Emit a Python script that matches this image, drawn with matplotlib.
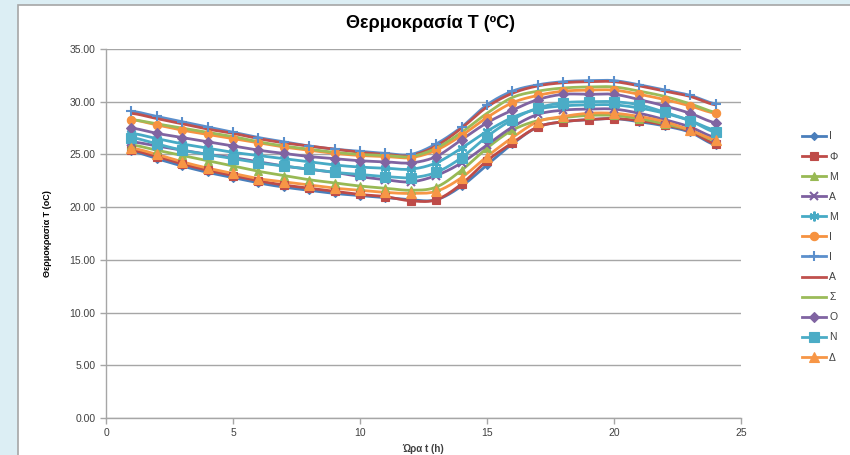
import matplotlib
matplotlib.use("Agg")
import matplotlib.pyplot as plt
import numpy as np
from matplotlib.patches import Rectangle

hours = list(range(1, 25))

# μηνιαίες καμπύλες θερμοκρασίας (°C) ανά ώρα
t_jan = [25.3, 24.6, 23.9, 23.3, 22.8, 22.3, 21.9, 21.6, 21.3, 21.1, 20.9, 20.7,
         20.7, 22.0, 24.0, 26.0, 27.6, 28.1, 28.3, 28.4, 28.1, 27.7, 27.1, 25.9]
t_feb = [25.4, 24.8, 24.1, 23.5, 23.0, 22.5, 22.1, 21.8, 21.5, 21.2, 21.0, 20.6,
         20.7, 22.2, 24.4, 26.1, 27.6, 28.1, 28.3, 28.4, 28.2, 27.8, 27.2, 26.0]
t_mar = [25.9, 25.4, 24.9, 24.4, 23.9, 23.4, 23.0, 22.6, 22.3, 22.0, 21.8, 21.6,
         21.9, 23.5, 25.6, 27.3, 28.2, 28.5, 28.7, 28.7, 28.4, 27.9, 27.3, 26.3]
t_apr = [26.2, 25.8, 25.4, 25.0, 24.7, 24.3, 23.9, 23.6, 23.3, 22.9, 22.6, 22.4,
         23.0, 24.2, 25.9, 27.6, 28.8, 29.2, 29.3, 29.3, 28.9, 28.3, 27.6, 26.6]
t_may = [27.0, 26.5, 26.0, 25.6, 25.2, 24.9, 24.6, 24.3, 24.0, 23.8, 23.7, 23.6,
         24.2, 25.6, 27.2, 28.5, 29.3, 29.6, 29.7, 29.7, 29.4, 28.9, 28.2, 27.3]
t_jun = [28.3, 27.8, 27.3, 26.9, 26.5, 26.1, 25.7, 25.4, 25.1, 24.9, 24.8, 24.7,
         25.4, 26.8, 28.5, 29.9, 30.6, 31.0, 31.1, 31.1, 30.7, 30.2, 29.6, 28.9]
t_jul = [29.1, 28.6, 28.1, 27.6, 27.1, 26.6, 26.2, 25.8, 25.5, 25.3, 25.1, 25.0,
         26.0, 27.6, 29.7, 31.0, 31.6, 31.9, 32.0, 32.0, 31.6, 31.1, 30.6, 29.8]
t_aug = [28.9, 28.4, 27.9, 27.4, 27.0, 26.5, 26.1, 25.8, 25.5, 25.2, 25.0, 24.9,
         25.8, 27.5, 29.5, 30.8, 31.5, 31.8, 31.9, 31.9, 31.5, 31.0, 30.5, 29.7]
t_sep = [28.3, 27.9, 27.5, 27.1, 26.7, 26.2, 25.8, 25.5, 25.2, 25.0, 24.9, 24.8,
         25.6, 27.1, 28.9, 30.4, 31.0, 31.3, 31.4, 31.4, 31.0, 30.5, 29.8, 29.0]
t_oct = [27.5, 27.0, 26.6, 26.2, 25.8, 25.4, 25.1, 24.8, 24.6, 24.4, 24.3, 24.2,
         24.8, 26.4, 28.0, 29.2, 30.2, 30.7, 30.7, 30.7, 30.2, 29.6, 28.9, 28.0]
t_nov = [26.6, 26.0, 25.4, 25.0, 24.6, 24.2, 23.9, 23.6, 23.3, 23.1, 22.9, 22.8,
         23.3, 24.7, 26.7, 28.3, 29.4, 29.9, 30.0, 30.0, 29.7, 29.0, 28.2, 27.1]
t_dec = [25.6, 25.0, 24.3, 23.7, 23.2, 22.7, 22.4, 22.1, 21.8, 21.6, 21.4, 21.3,
         21.5, 22.8, 24.8, 26.6, 28.1, 28.6, 28.9, 28.9, 28.6, 28.1, 27.3, 26.4]

month_labels = ["Ι", "Φ", "Μ", "Α", "Μ", "Ι", "Ι", "Α", "Σ", "Ο", "Ν", "Δ"]
series = [t_jan, t_feb, t_mar, t_apr, t_may, t_jun,
          t_jul, t_aug, t_sep, t_oct, t_nov, t_dec]

colors = ["#4A7EBB", "#BE4B48", "#98B954", "#7D60A0", "#46AAC5", "#F69240",
          "#5B8FCC", "#C0504D", "#9BBB59", "#8064A2", "#4BACC6", "#F79646"]
markers = ["D", "s", "^", "x", (6, 2, 0), "o", "+", None, None, "D", "s", "^"]
msizes = [4.5, 6, 6, 6, 7, 6, 7, 0, 0, 5.5, 6.5, 6.5]


def smooth(x, y, n=16):
    # Catmull-Rom καμπύλη ανάμεσα στα σημεία
    x = np.asarray(x, float)
    y = np.asarray(y, float)
    px = np.concatenate([[2 * x[0] - x[1]], x, [2 * x[-1] - x[-2]]])
    py = np.concatenate([[y[0]], y, [y[-1]]])
    xs, ys = [], []
    t = np.linspace(0, 1, n, endpoint=False)
    for i in range(1, len(px) - 2):
        for arr, out in ((px, xs), (py, ys)):
            p0, p1, p2, p3 = arr[i - 1], arr[i], arr[i + 1], arr[i + 2]
            out.extend(0.5 * ((2 * p1) + (-p0 + p2) * t
                              + (2 * p0 - 5 * p1 + 4 * p2 - p3) * t ** 2
                              + (-p0 + 3 * p1 - 3 * p2 + p3) * t ** 3))
    xs.append(x[-1])
    ys.append(y[-1])
    return np.array(xs), np.array(ys)


plt.rcParams['font.family'] = ['Liberation Sans', 'DejaVu Sans']
txt = "#404040"
mark_ew = lambda m: 1.5 if m in ("x", "+", (6, 2, 0)) else 0.8

fig = plt.figure(figsize=(8.5, 4.55), dpi=100)
fig.patch.set_facecolor("#DCEEF4")
# λευκό πλαίσιο γραφήματος
fig.patches.append(Rectangle((18 / 850, -0.01), 1.0, 1 - 5 / 455 + 0.01,
                             transform=fig.transFigure, facecolor="white",
                             edgecolor="#A6A6A6", linewidth=1.2, zorder=-10))

ax = fig.add_axes([106 / 850, 1 - 418 / 455, 635 / 850, 369 / 455])
ax.set_facecolor("none")

handles = []
for vals, lab, c, m, ms in zip(series, month_labels, colors, markers, msizes):
    sx, sy = smooth(hours, vals)
    ax.plot(sx, sy, color=c, lw=2.0, solid_capstyle="round", zorder=3)
    if m is not None:
        ax.plot(hours, vals, ls="none", marker=m, ms=ms, color=c,
                mec=c, mew=mark_ew(m), zorder=4)
    h, = ax.plot([], [], color=c, lw=2.0, marker=m, ms=ms, mec=c,
                 mew=mark_ew(m))
    handles.append(h)

ax.set_xlim(0, 25)
ax.set_ylim(0, 35)
ax.set_xticks(range(0, 26, 5))
ax.set_yticks(np.arange(0, 36, 5))
ax.yaxis.set_major_formatter(matplotlib.ticker.FormatStrFormatter("%.2f"))
ax.grid(axis="y", color="#A6A6A6", lw=1.0, zorder=1)
ax.set_axisbelow(True)
for s in ("top", "right"):
    ax.spines[s].set_visible(False)
for s in ("left", "bottom"):
    ax.spines[s].set_color("#A6A6A6")
    ax.spines[s].set_linewidth(1.0)
ax.tick_params(axis="both", colors="#A6A6A6", labelcolor=txt, labelsize=7.5,
               length=4, width=1.0, direction="out")

ax.set_xlabel("Ώρα t (h)", fontsize=7, fontweight="bold", color=txt, labelpad=4)
ax.set_ylabel("Θερμοκρασία Τ (oC)", fontsize=6.5, fontweight="bold",
              color="black", labelpad=13)
fig.text(430 / 850, 1 - 24 / 455, "Θερμοκρασία Τ (ºC)", ha="center",
         va="center", fontsize=13, fontweight="bold", color="black")

leg = fig.legend(handles, month_labels, loc="center left",
                 bbox_to_anchor=(802 / 850, 1 - 247 / 455), frameon=False,
                 fontsize=7.5, handlelength=2.3, handletextpad=0.3,
                 labelspacing=0.97, borderaxespad=0, borderpad=0)
for t in leg.get_texts():
    t.set_color(txt)

fig.savefig("out.png", dpi=100, facecolor=fig.get_facecolor())
